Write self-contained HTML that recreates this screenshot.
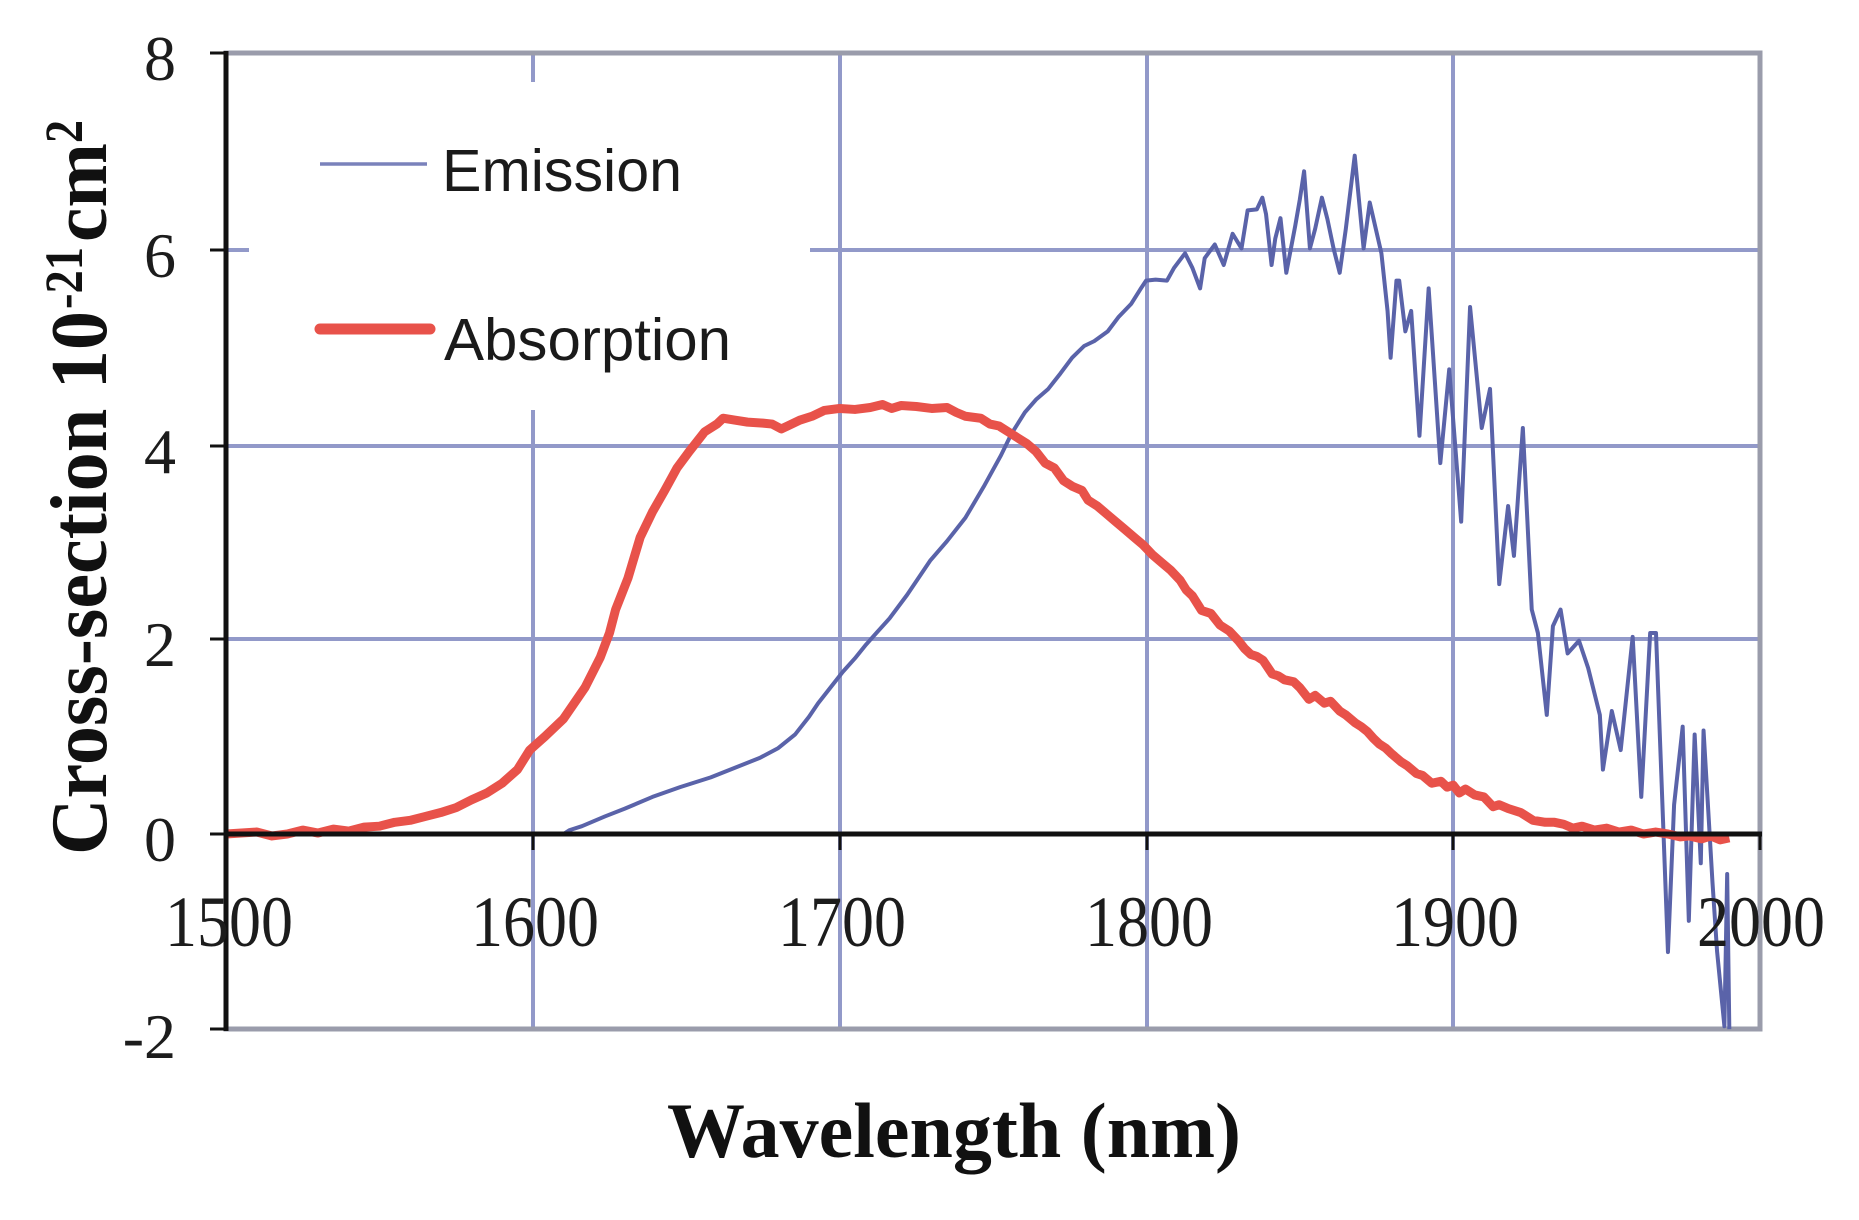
<!DOCTYPE html>
<html>
<head>
<meta charset="utf-8">
<style>
html,body{margin:0;padding:0;background:#fff;}
svg{display:block;}
</style>
</head>
<body>
<svg width="1859" height="1220" viewBox="0 0 1859 1220" xmlns="http://www.w3.org/2000/svg">
<rect x="0" y="0" width="1859" height="1220" fill="#ffffff"/>

<!-- grid lines -->
<g stroke="#9299c9" stroke-width="4" fill="none">
  <line x1="226" y1="250" x2="1760" y2="250"/>
  <line x1="226" y1="446" x2="1760" y2="446"/>
  <line x1="226" y1="639" x2="1760" y2="639"/>
  <line x1="533" y1="53" x2="533" y2="1029"/>
  <line x1="840" y1="53" x2="840" y2="1029"/>
  <line x1="1147" y1="53" x2="1147" y2="1029"/>
  <line x1="1453" y1="53" x2="1453" y2="1029"/>
</g>

<!-- legend background -->
<rect x="249" y="82" width="561" height="328" fill="#ffffff"/>

<!-- borders -->
<g stroke="#9a9cab" stroke-width="5" fill="none" stroke-linecap="square">
  <line x1="226" y1="53" x2="1760" y2="53"/>
  <line x1="1760" y1="53" x2="1760" y2="1029"/>
  <line x1="226" y1="1029" x2="1760" y2="1029"/>
</g>

<!-- series -->
<g transform="translate(226,834) scale(3.068,-97.6)">
  <path fill="none" stroke="#5a63a9" stroke-width="4" stroke-linejoin="round" vector-effect="non-scaling-stroke"
  d="M0,0 L110,0 112,0.04 116,0.08 123.5,0.18 130,0.26 139,0.38 148,0.48 158,0.58 166,0.68 174,0.78 180,0.88 185.5,1.02 190,1.2 193,1.34 197,1.5 201,1.66 205,1.8 208.6,1.94 212,2.06 216.3,2.21 222,2.45 229.5,2.8 235,3.0 241,3.24 247,3.56 252.6,3.88 256,4.1 260.4,4.32 264,4.45 268,4.56 272,4.72 275.8,4.88 279.7,5.0 283,5.05 287.4,5.15 291,5.3 295,5.43 298,5.58 299.9,5.67 303,5.68 306.7,5.67 309,5.8 312.6,5.95 315,5.8 317.5,5.59 319,5.9 322.3,6.04 325.2,5.83 328.1,6.15 331,6.0 333,6.39 336,6.4 337.8,6.52 339,6.35 340.8,5.83 342,6.1 343.7,6.31 345.6,5.75 348.5,6.23 350,6.5 351.4,6.79 353.3,6.0 355,6.2 357.2,6.52 359,6.3 361,6.0 363,5.75 365,6.2 367.9,6.95 370.8,6.0 372.8,6.47 376.6,5.95 378.6,5.36 379.6,4.88 381.5,5.67 382.4,5.67 384.4,5.15 386.3,5.36 389,4.08 392,5.59 395.8,3.8 398.7,4.76 402.6,3.2 405.5,5.4 409.3,4.16 412,4.56 415,2.56 417.9,3.36 419.8,2.85 422.7,4.16 425.6,2.3 427.6,2.06 430.5,1.22 432.5,2.13 435,2.3 437.3,1.85 441,1.98 444,1.70 447.8,1.22 448.8,0.66 451.7,1.26 454.6,0.86 458.5,2.02 461.3,0.38 464.2,2.06 466.1,2.06 470,-1.21 472,0.30 474.8,1.10 476.8,-0.89 478.7,1.02 480.7,-0.30 481.6,1.06 484.5,-0.49 486,-1.2 488.4,-1.97 489.3,-0.41 490,-2.0"/>
  <path fill="none" stroke="#e8524a" stroke-width="9" stroke-linejoin="round" vector-effect="non-scaling-stroke"
  d="M0,0 L10,0.02 15,-0.02 20,0.0 25,0.04 30,0.01 35,0.05 40,0.03 45,0.07 50,0.08 55,0.12 60,0.14 65,0.18 70,0.22 75,0.27 80,0.35 85,0.42 90,0.52 95,0.66 99,0.86 104,1.0 110,1.18 117,1.50 122,1.81 125,2.06 127,2.30 131,2.62 135,3.04 139,3.3 143,3.52 147,3.75 151,3.92 156,4.12 160,4.2 162,4.26 166,4.24 170,4.22 175,4.21 178,4.2 181,4.15 183,4.18 187,4.24 191,4.28 195,4.34 200,4.36 205,4.35 210,4.37 214,4.4 217,4.36 220,4.39 225,4.38 230,4.36 235,4.37 238,4.32 241,4.28 246,4.26 249,4.2 252,4.18 255,4.12 258,4.06 261,4.0 264,3.92 267,3.8 270,3.75 273,3.62 276,3.56 279,3.52 281,3.42 284,3.36 287,3.28 290,3.2 293,3.12 296,3.04 299,2.96 302,2.86 305,2.78 308,2.7 311,2.60 313,2.5 315,2.44 318,2.29 321,2.26 324,2.14 327,2.08 330,1.98 332,1.9 334,1.84 336,1.82 338,1.78 341,1.64 343,1.62 345,1.58 348,1.56 350,1.5 353,1.38 355,1.42 358,1.34 360,1.36 363,1.26 365,1.22 368,1.14 370,1.1 372,1.05 374,0.98 376,0.92 378,0.88 380,0.82 383,0.74 385,0.7 388,0.62 390,0.6 393,0.52 396,0.54 398,0.48 400,0.5 402,0.42 404,0.46 407,0.4 410,0.38 413,0.28 415,0.30 418,0.26 422,0.22 426,0.14 430,0.12 433,0.12 436,0.1 439,0.06 442,0.08 446,0.04 450,0.06 454,0.02 458,0.04 462,0.0 466,0.02 470,0.0 474,-0.03 477,-0.02 481,-0.05 484,-0.02 487,-0.06 490,-0.04"/>
</g>

<!-- axes -->
<g stroke="#111" fill="none">
  <line x1="226" y1="51" x2="226" y2="1031" stroke-width="5"/>
  <line x1="224" y1="834" x2="1762" y2="834" stroke-width="5"/>
  <g stroke-width="3">
    <line x1="210" y1="53" x2="226" y2="53"/>
    <line x1="210" y1="250" x2="226" y2="250"/>
    <line x1="210" y1="446" x2="226" y2="446"/>
    <line x1="210" y1="639" x2="226" y2="639"/>
    <line x1="210" y1="834" x2="226" y2="834"/>
    <line x1="210" y1="1029" x2="226" y2="1029"/>
    <line x1="226" y1="834" x2="226" y2="850"/>
    <line x1="533" y1="834" x2="533" y2="850"/>
    <line x1="840" y1="834" x2="840" y2="850"/>
    <line x1="1147" y1="834" x2="1147" y2="850"/>
    <line x1="1453" y1="834" x2="1453" y2="850"/>
    <line x1="1760" y1="834" x2="1760" y2="850"/>
  </g>
</g>

<!-- y tick labels -->
<g font-family="'Liberation Serif', 'DejaVu Serif', serif" font-size="64" fill="#1c1c1c" text-anchor="end">
  <text x="176" y="80">8</text>
  <text x="176" y="277">6</text>
  <text x="176" y="473">4</text>
  <text x="176" y="666">2</text>
  <text x="176" y="861">0</text>
  <text x="176" y="1058">-2</text>
</g>

<!-- x tick labels -->
<g font-family="'Liberation Serif', 'DejaVu Serif', serif" font-size="64" fill="#1c1c1c" text-anchor="middle">
  <text transform="translate(229,946) scale(1,1.13)">1500</text>
  <text transform="translate(535,946) scale(1,1.13)">1600</text>
  <text transform="translate(842,946) scale(1,1.13)">1700</text>
  <text transform="translate(1149,946) scale(1,1.13)">1800</text>
  <text transform="translate(1455,946) scale(1,1.13)">1900</text>
  <text transform="translate(1761,946) scale(1,1.13)">2000</text>
</g>

<!-- axis titles -->
<g font-family="'Liberation Serif', 'DejaVu Serif', serif" font-weight="bold" fill="#111">
  <text x="667" y="1157" font-size="78" textLength="574" lengthAdjust="spacingAndGlyphs">Wavelength (nm)</text>
  <text transform="translate(106,855) rotate(-90)" font-size="80" textLength="544" lengthAdjust="spacingAndGlyphs">Cross-section 10</text>
  <text transform="translate(82,309) rotate(-90)" font-size="54" textLength="62" lengthAdjust="spacingAndGlyphs">-21</text>
  <text transform="translate(106,242) rotate(-90)" font-size="78" textLength="99" lengthAdjust="spacingAndGlyphs">cm</text>
  <text transform="translate(82,143) rotate(-90)" font-size="54" textLength="23" lengthAdjust="spacingAndGlyphs">2</text>
</g>

<!-- legend -->
<line x1="320" y1="164" x2="427" y2="164" stroke="#7a82bb" stroke-width="3.5"/>
<line x1="320" y1="329" x2="430" y2="329" stroke="#e8524a" stroke-width="11" stroke-linecap="round"/>
<g font-family="'Liberation Sans', Arial, sans-serif" font-size="59" fill="#1a1a1a">
  <text x="442" y="191" textLength="240" lengthAdjust="spacingAndGlyphs">Emission</text>
  <text x="444" y="360" textLength="287" lengthAdjust="spacingAndGlyphs">Absorption</text>
</g>
</svg>
</body>
</html>
